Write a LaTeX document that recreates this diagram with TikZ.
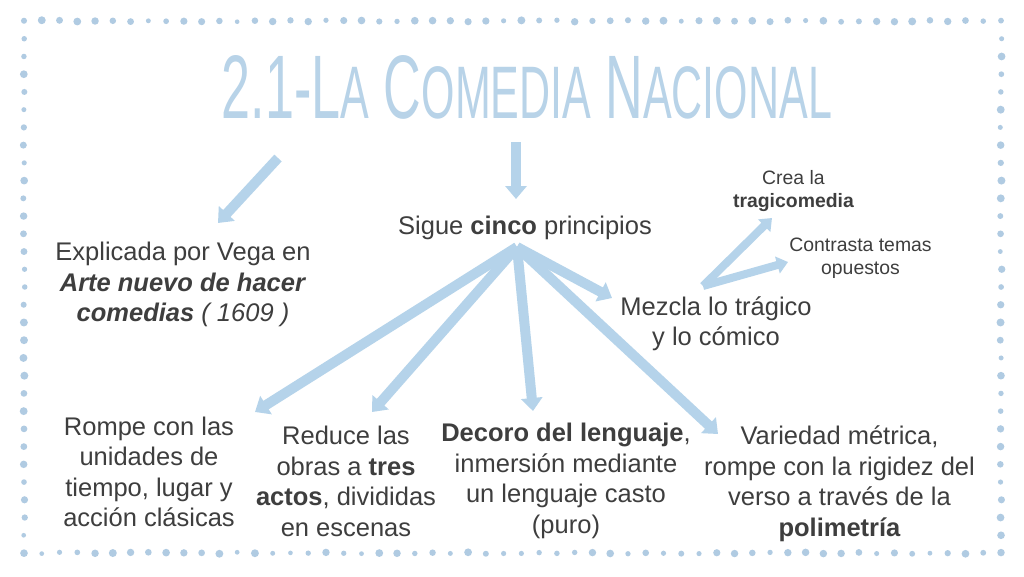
\documentclass[tikz,border=0pt]{standalone}
\usepackage{fontspec}
\setmainfont{Liberation Sans}
\usepackage{graphicx}
\usetikzlibrary{arrows.meta}
\definecolor{bluea}{RGB}{181,211,234}
\definecolor{titleblue}{RGB}{184,211,232}
\definecolor{dotblue}{RGB}{176,203,226}
\definecolor{txt}{RGB}{62,62,62}
\tikzset{
  lbl/.style={align=center, text=txt, inner sep=0pt, font=\fontsize{25.5}{30.5}\selectfont},
  sml/.style={align=center, text=txt, inner sep=0pt, font=\fontsize{19.4}{23}\selectfont},
  conn/.style={draw=bluea, line width=10pt, -{Triangle[width=21pt,length=13pt]}},
  connsm/.style={draw=bluea, line width=8pt, -{Triangle[width=17pt,length=11pt]}},
  dot/.style={fill=dotblue}
}
\begin{document}
\begin{tikzpicture}[x=1pt,y=-1pt]
\useasboundingbox (0,0) rectangle (1024,576);
\fill[white] (0,0) rectangle (1024,576);
% dotted frame
\pgfmathsetseed{12}
\foreach \i in {0,...,55}{
  \pgfmathsetmacro\xx{24+\i*17.7636}
  \pgfmathsetmacro\yy{21+1.6*(rnd-0.5)}
  \pgfmathsetmacro\rr{2.3+1.7*rnd}
  \fill[dot] (\xx,\yy) circle[radius=\rr pt];
  \pgfmathsetmacro\yb{553+1.6*(rnd-0.5)}
  \pgfmathsetmacro\rb{2.3+1.7*rnd}
  \fill[dot] (\xx,\yb) circle[radius=\rb pt];
}
\foreach \i in {1,...,29}{
  \pgfmathsetmacro\yy{21+\i*17.7333}
  \pgfmathsetmacro\xa{24+1.6*(rnd-0.5)}
  \pgfmathsetmacro\ra{2.3+1.7*rnd}
  \fill[dot] (\xa,\yy) circle[radius=\ra pt];
  \pgfmathsetmacro\xb{1001+1.6*(rnd-0.5)}
  \pgfmathsetmacro\rb{2.3+1.7*rnd}
  \fill[dot] (\xb,\yy) circle[radius=\rb pt];
}
% title
\node[anchor=base, inner sep=0pt, text=titleblue] (title) at (527,118)
  {\resizebox{610pt}{63pt}{\fontsize{80}{80}\selectfont 2.1-L{\fontsize{66}{66}\selectfont A} C{\fontsize{66}{66}\selectfont OMEDIA} N{\fontsize{66}{66}\selectfont ACIONAL}}};
% nodes
\node[lbl, anchor=base] (sigue) at (525,234) {Sigue \textbf{cinco} principios};
\node[lbl] (vega) at (183,284.4) {Explicada por Vega en\\\textbf{\textit{Arte nuevo de hacer}}\\\textbf{\textit{comedias}} \textit{( 1609 )}};
\node[lbl] (mezcla) at (716,323.9) {Mezcla lo trágico\\y lo cómico};
\node[sml] (crea) at (793.5,190.7) {Crea la\\\textbf{tragicomedia}};
\node[sml] (contrasta) at (860.5,258.7) {Contrasta temas\\opuestos};
\node[lbl] (rompe) at (149,471.7) {Rompe con las\\unidades de\\tiempo, lugar y\\acción clásicas};
\node[lbl] (reduce) at (346,481.4) {Reduce las\\obras a \textbf{tres}\\\textbf{actos}, divididas\\en escenas};
\node[lbl] (decoro) at (566,480.9) {\textbf{Decoro del lenguaje},\\inmersión mediante\\un lenguaje casto\\(puro)};
\node[lbl] (variedad) at (839.5,483.9) {Variedad métrica,\\rompe con la rigidez del\\verso a través de la\\\textbf{polimetría}};
% connector ends
\coordinate (tA) at (278,158);
\coordinate (hA) at (218,223);
\coordinate (tB) at (516,142);
\coordinate (hB) at (516,199);
\coordinate (hub) at (517,247);
\coordinate (hRompe) at (255,412);
\coordinate (hReduce) at (372,412);
\coordinate (hDecoro) at (533,411);
\coordinate (hMezcla) at (612,298);
\coordinate (hVariedad) at (718,434);
\coordinate (mz) at (703,286);
\coordinate (hCrea) at (772,218);
\coordinate (hContrasta) at (788,262);
% connectors
\draw[conn] (tA) -- (hA);
\draw[conn] (tB) -- (hB);
\draw[conn] (hub) -- (hRompe);
\draw[conn] (hub) -- (hReduce);
\draw[conn] (hub) -- (hDecoro);
\draw[conn] (hub) -- (hMezcla);
\draw[conn] (hub) -- (hVariedad);
\draw[connsm] (mz) -- (hCrea);
\draw[connsm] (mz) -- (hContrasta);
\end{tikzpicture}
\end{document}
